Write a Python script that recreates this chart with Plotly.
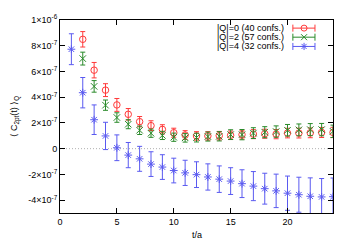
import plotly.graph_objects as go

# ---- data ----
t_q0 = list(range(2, 25))
c_q0 = [8.5, 6.1, 4.55, 3.4, 2.67, 2.1, 1.79, 1.5, 1.24, 1.06, 0.99, 0.99, 1.01, 1.04, 1.09,
        1.13, 1.16, 1.13, 1.21, 1.21, 1.23, 1.26, 1.26]
e_q0 = [0.6, 0.6, 0.5, 0.5, 0.45, 0.4, 0.38, 0.36, 0.35, 0.34, 0.33, 0.33, 0.33, 0.33, 0.34,
        0.35, 0.35, 0.36, 0.37, 0.38, 0.38, 0.39, 0.4]

t_q2 = list(range(2, 25))
c_q2 = [7.0, 4.84, 3.38, 2.42, 1.9, 1.43, 1.2, 1.03, 0.89, 0.84, 0.86, 0.94, 0.96, 1.09, 1.09,
        1.21, 1.28, 1.33, 1.43, 1.46, 1.48, 1.48, 1.35]
e_q2 = [0.5, 0.45, 0.4, 0.37, 0.35, 0.33, 0.32, 0.32, 0.32, 0.33, 0.34, 0.35, 0.36, 0.38, 0.4,
        0.42, 0.43, 0.44, 0.45, 0.46, 0.47, 0.48, 0.48]

t_q4 = list(range(1, 25))
c_q4 = [7.73, 4.35, 2.25, 0.99, 0.07, -0.5, -0.79, -1.2, -1.43, -1.7, -1.88, -2.02, -2.2, -2.37,
        -2.52, -2.72, -2.91, -3.11, -3.28, -3.46, -3.58, -3.7, -3.75, -3.73]
e_q4 = [1.2, 1.18, 1.15, 1.06, 1.0, 0.98, 0.97, 0.96, 0.96, 0.96, 0.98, 1.0, 1.02, 1.03,
        1.04, 1.08, 1.13, 1.2, 1.3, 1.33, 1.36, 1.43, 1.43, 1.45]

SCALE = 1e-7
labels = ["|Q|=0 (40 confs.)", "|Q|=2 (57 confs.)", "|Q|=4 (32 confs.)"]
colors = ["#ff3a3a", "#2a8a2a", "#5a5af0"]
symbols = ["circle-open", "x-thin-open", "asterisk-open"]

y_tickvals = [-4e-7, -2e-7, 0, 2e-7, 4e-7, 6e-7, 8e-7, 1e-6]
y_ticktext = ["-4×10<sup>-7</sup>", "-2×10<sup>-7</sup>", "0", "2×10<sup>-7</sup>",
              "4×10<sup>-7</sup>", "6×10<sup>-7</sup>", "8×10<sup>-7</sup>", "1×10<sup>-6</sup>"]
x_tickvals = [0, 5, 10, 15, 20]

FONT = "Liberation Sans, Arial, sans-serif"

fig = go.Figure()

series = [(t_q0, c_q0, e_q0), (t_q2, c_q2, e_q2), (t_q4, c_q4, e_q4)]
for (t, c, e), col, sym, lab in zip(series, colors, symbols, labels):
    fig.add_trace(go.Scatter(
        x=t, y=[v * SCALE for v in c], mode="markers", name=lab, showlegend=False,
        marker=dict(symbol=sym, size=6.5, color=col, line=dict(color=col, width=1)),
        error_y=dict(type="data", array=[v * SCALE for v in e], color=col,
                     thickness=1, width=2.5),
        cliponaxis=True,
    ))

# zero reference line (fine dotted)
fig.add_hline(y=0, line=dict(color="#b0b0b0", width=1, dash="1px,2px"), layer="below")

# legend built on a hidden overlay axis (0..1)
rows = [0.958, 0.911, 0.863]
x0, x1, xm = 0.853, 0.934, 0.894
for r, col, sym, lab in zip(rows, colors, symbols, labels):
    fig.add_trace(go.Scatter(x=[x0, x1], y=[r, r], mode="lines+markers", xaxis="x2", yaxis="y2",
                             showlegend=False, hoverinfo="skip",
                             line=dict(color=col, width=1),
                             marker=dict(symbol="line-ns", size=5, color=col,
                                         line=dict(color=col, width=1))))
    fig.add_trace(go.Scatter(x=[xm], y=[r], mode="markers", xaxis="x2", yaxis="y2",
                             showlegend=False, hoverinfo="skip",
                             marker=dict(symbol=sym, size=6, color=col,
                                         line=dict(color=col, width=1))))
    fig.add_annotation(x=0.824, y=r, xref="paper", yref="paper", text=lab, showarrow=False,
                       xanchor="right", yanchor="middle", font=dict(size=9, color="black"),
                       borderpad=0)

axis_common = dict(showline=True, linecolor="black", linewidth=1, mirror="ticks",
                   ticks="inside", ticklen=5, tickcolor="black", showgrid=False,
                   zeroline=False, ticklabeloverflow="allow",
                   tickfont=dict(size=9, color="black", family=FONT))

# the page body adds an 8px offset, so the figure is sized to fill the 350x245 window
fig.update_layout(
    width=342, height=237,
    margin=dict(l=52, r=17, t=5, b=32),
    paper_bgcolor="white", plot_bgcolor="white",
    font=dict(family=FONT, size=9, color="black"),
    xaxis=dict(range=[0, 24], tickvals=x_tickvals, **axis_common),
    yaxis=dict(range=[-5e-7, 1e-6], tickvals=y_tickvals, ticktext=y_ticktext, **axis_common),
    xaxis2=dict(range=[0, 1], overlaying="x", visible=False),
    yaxis2=dict(range=[0, 1], overlaying="y", visible=False),
    showlegend=False,
)

fig.add_annotation(x=0.5, y=-0.116, xref="paper", yref="paper", text="t/a", showarrow=False,
                   xanchor="center", yanchor="middle", font=dict(size=9), borderpad=0)
fig.add_annotation(x=-0.165, y=0.5, xref="paper", yref="paper",
                   text="⟨ C<sub>2pt</sub>(t) ⟩<sub>Q</sub>", showarrow=False, textangle=-90,
                   xanchor="center", yanchor="middle", font=dict(size=9))

fig.write_html("out.html")
